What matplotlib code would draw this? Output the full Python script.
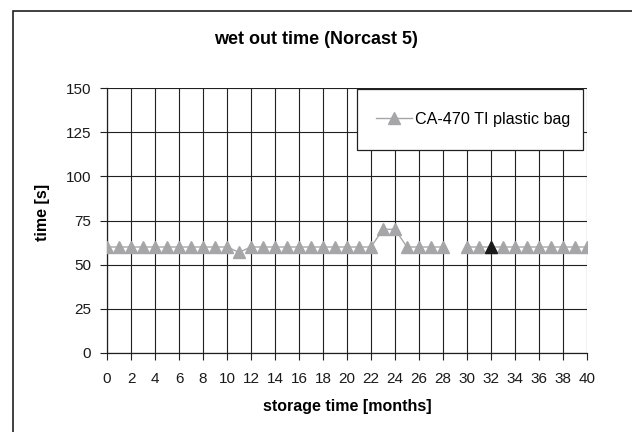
import numpy as np
import matplotlib
matplotlib.use("Agg")
import matplotlib.pyplot as plt
from matplotlib.patches import Rectangle

plt.rcParams['font.family'] = ['Liberation Sans', 'DejaVu Sans']

# wet out time per month of storage (29 was not measured)
months = list(range(0, 41))
wet_time = [60, 60, 60, 60, 60, 60, 60, 60, 60, 60,
            60, 57, 60, 60, 60, 60, 60, 60, 60, 60,
            60, 60, 60, 70, 70, 60, 60, 60, 60, np.nan,
            60, 60, 60, 60, 60, 60, 60, 60, 60, 60, 60]
highlight_month = 32
series_label = "CA-470 TI plastic bag"

grey = '#a6a6a8'
dark = '#202020'

fig = plt.figure(figsize=(6.32, 4.32), dpi=100)
ax = fig.add_axes([107/632, 1 - 353/432, 480/632, 265/432])

ax.plot(months, wet_time, color=grey, lw=1.0, marker='^', ms=9,
        mfc=grey, mec=grey, label=series_label, zorder=3)
i = months.index(highlight_month)
ax.plot([months[i]], [wet_time[i]], ls='none', marker='^', ms=9,
        mfc='#1a1a1a', mec='#1a1a1a', zorder=4)

ax.set_xlim(0, 40)
ax.set_ylim(0, 150)
ax.set_xticks(range(0, 41, 2))
ax.set_yticks(range(0, 151, 25))
ax.grid(True, color=dark, lw=0.8)
ax.set_axisbelow(True)
for s in ['top', 'right']:
    ax.spines[s].set_visible(False)
for s in ['left', 'bottom']:
    ax.spines[s].set_color(dark)
    ax.spines[s].set_linewidth(0.9)
ax.tick_params(direction='out', length=5, width=0.8, color=dark,
               labelsize=11, labelcolor='#1a1a1a')
ax.tick_params(axis='y', pad=6.5)
ax.tick_params(axis='x', pad=9)

ax.set_xlabel('storage time [months]', fontsize=11.5, fontweight='bold', va='center')
ax.xaxis.set_label_coords(0.5, (353 - 407) / 265)
ax.set_ylabel('time [s]', fontsize=11.5, fontweight='bold', va='center')
ax.yaxis.set_label_coords((43 - 107) / 480, (353 - 212) / 265)
fig.text(316/632, 1 - 39/432, 'wet out time (Norcast 5)', ha='center', va='center',
         fontsize=13, fontweight='bold')

# legend box drawn by hand, entry placed inside it
ax.add_patch(Rectangle((250/480, (353 - 150)/265), 226/480, 61/265,
                       transform=ax.transAxes, facecolor='white', edgecolor=dark,
                       lw=0.9, zorder=5, clip_on=False))
leg = ax.legend(loc='center left', bbox_to_anchor=((376 - 107)/480, (353 - 119.5)/265),
                fontsize=11.6, frameon=False, borderpad=0, borderaxespad=0,
                handlelength=2.25, handletextpad=0.2)
leg.set_zorder(6)

# outer chart frame (only left and top edges fall inside the picture)
fig.patches.append(Rectangle((13/632, -0.1), 1.2, 1 - 11/432 + 0.1,
                             transform=fig.transFigure, fill=False,
                             edgecolor=dark, lw=1.2))

fig.savefig('out.png', dpi=100)
